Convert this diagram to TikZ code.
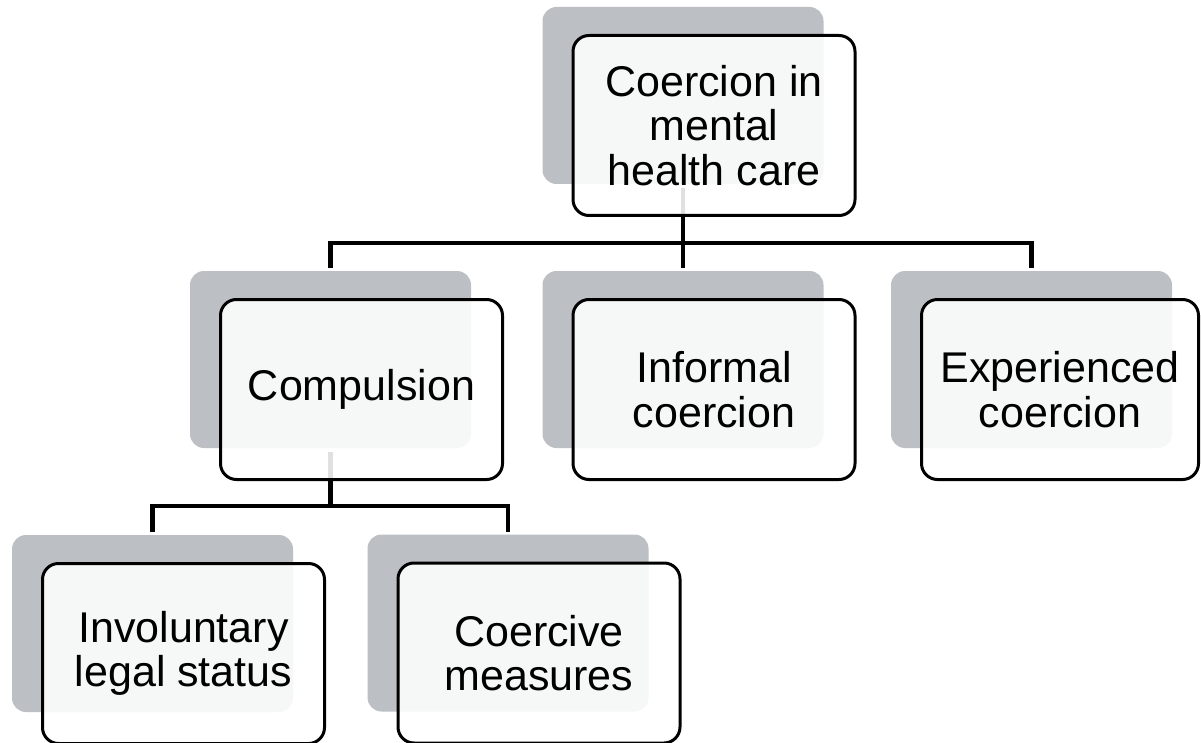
\documentclass[tikz,border=0pt]{standalone}
\usepackage{fontspec}
\setmainfont{Liberation Sans}
\definecolor{shgray}{RGB}{188,191,196}
\begin{document}
\begin{tikzpicture}[x=1pt,y=-1pt,
  shadowbox/.style={fill=shgray, rounded corners=14pt, minimum width=281pt, minimum height=177pt, inner sep=0pt, outer sep=0pt},
  mainbox/.style={draw=black, line width=3pt, fill=white, fill opacity=0.88, text opacity=1, draw opacity=1, rounded corners=16pt, minimum width=282pt, minimum height=180pt, inner sep=0pt, outer sep=0pt, align=center, font=\fontsize{43}{44.5}\selectfont},
  conn/.style={line width=4.5pt, draw=black, shorten <=4pt, shorten >=3pt}]
\useasboundingbox (0,0) rectangle (1201,743);
% shadows
\node[shadowbox] (s0) at (683,95.5) {};
\node[shadowbox] (s1) at (330.5,359.5) {};
\node[shadowbox] (s2) at (683,359.5) {};
\node[shadowbox] (s3) at (1031.5,359.5) {};
\node[shadowbox] (s4) at (152.5,623.5) {};
\node[shadowbox] (s5) at (508,623) {};
% bus coordinates
\coordinate (bus0) at (683,243);
\coordinate (bus1) at (330.5,506);
% connectors
\draw[conn] (s0.south) -- (bus0) -| (s1.north);
\draw[conn] (s0.south) -- (s2.north);
\draw[conn] (s0.south) -- (bus0) -| (s3.north);
\draw[conn] (s1.south) -- (bus1) -| (s4.north);
\draw[conn] (s1.south) -- (bus1) -| (s5.north);
% main boxes
\node[mainbox] (b0) at ([shift={(31,30)}]s0.center) {Coercion in\\mental\\health care};
\node[mainbox] (b1) at ([shift={(31,30)}]s1.center) {Compulsion};
\node[mainbox] (b2) at ([shift={(31,30)}]s2.center) {Informal\\coercion};
\node[mainbox, minimum width=277pt] (b3) at ([shift={(28.5,30)}]s3.center) {Experienced\\coercion};
\node[mainbox] (b4) at ([shift={(31,30)}]s4.center) {Involuntary\\legal status};
\node[mainbox] (b5) at ([shift={(31,30)}]s5.center) {Coercive\\measures};
\end{tikzpicture}
\end{document}
